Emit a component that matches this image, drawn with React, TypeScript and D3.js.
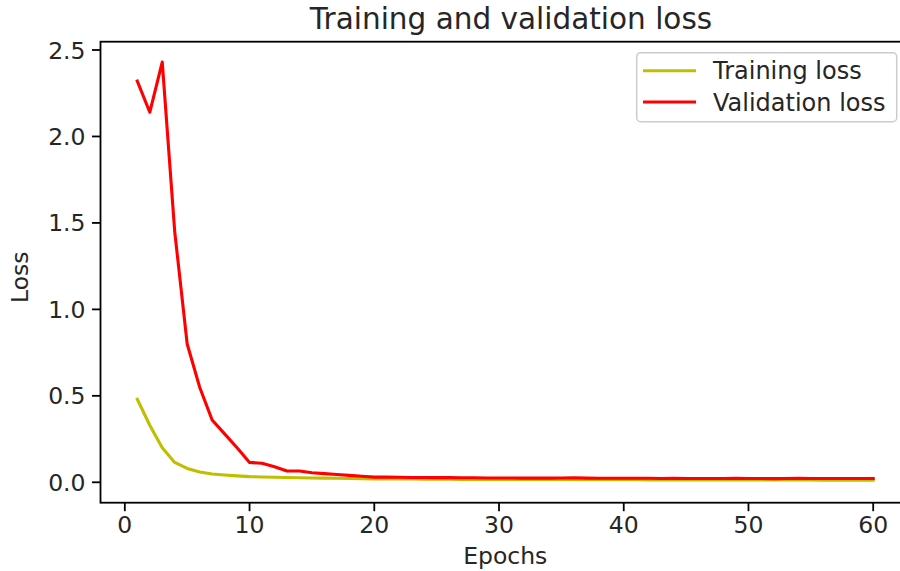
import React from "react";
import * as d3 from "d3";

const epochs: number[] = Array.from({ length: 60 }, (_, i) => i + 1);

const trainingLoss: number[] = [
  0.48, 0.33, 0.2, 0.115, 0.08, 0.06, 0.048, 0.042, 0.037, 0.033,
  0.031, 0.029, 0.028, 0.026, 0.025, 0.024, 0.023, 0.022, 0.021, 0.02,
  0.02, 0.019, 0.019, 0.018, 0.018, 0.018, 0.017, 0.017, 0.017, 0.017,
  0.016, 0.016, 0.016, 0.016, 0.016, 0.015, 0.015, 0.015, 0.015, 0.015,
  0.015, 0.014, 0.014, 0.014, 0.014, 0.014, 0.014, 0.014, 0.013, 0.013,
  0.013, 0.013, 0.013, 0.013, 0.013, 0.012, 0.012, 0.012, 0.012, 0.012,
];

const validationLoss: number[] = [
  2.32, 2.14, 2.43, 1.45, 0.8, 0.55, 0.36, 0.28, 0.2, 0.115,
  0.11, 0.09, 0.065, 0.065, 0.055, 0.05, 0.045, 0.04, 0.035, 0.03,
  0.03, 0.029, 0.028, 0.028, 0.027, 0.027, 0.026, 0.026, 0.025, 0.025,
  0.025, 0.024, 0.024, 0.024, 0.025, 0.026, 0.024, 0.023, 0.023, 0.023,
  0.023, 0.023, 0.022, 0.023, 0.022, 0.022, 0.022, 0.022, 0.023, 0.022,
  0.022, 0.021, 0.022, 0.023, 0.022, 0.022, 0.022, 0.022, 0.022, 0.022,
];

const xTicks: number[] = [0, 10, 20, 30, 40, 50, 60];
const yTicks: number[] = [0.0, 0.5, 1.0, 1.5, 2.0, 2.5];

const seriesNames: string[] = ["Training loss", "Validation loss"];
const seriesColors: string[] = ["#bfbf00", "#ff0000"];

const W = 900;
const H = 571;
const left = 100.5;
const right = 910;
const top = 41.7;
const bottom = 502.7;
const FONT = "DejaVu Sans, sans-serif";
const fs = 23.5;

export default function App() {
  const x = d3.scaleLinear().domain([-1.95, 62.95]).range([left, right]);
  const y = d3.scaleLinear().domain([-0.118, 2.548]).range([bottom, top]);
  const line = d3
    .line<number>()
    .x((_, i) => x(epochs[i]))
    .y((d) => y(d));
  const series = [trainingLoss, validationLoss];
  const tc = "#262626";

  return (
    <svg
      width={W}
      height={H}
      style={{ position: "absolute", left: 0, top: 0, background: "#fff" }}
      fontFamily={FONT}
    >
      <rect x={0} y={0} width={W} height={H} fill="#fff" />
      <text x={511} y={29} textAnchor="middle" fontSize={29.5} fill={tc}>
        Training and validation loss
      </text>
      {series.map((s, k) => (
        <path
          key={k}
          d={line(s) || ""}
          fill="none"
          stroke={seriesColors[k]}
          strokeWidth={3.1}
          strokeLinejoin="round"
          strokeLinecap="square"
        />
      ))}
      <rect
        x={left}
        y={top}
        width={right - left}
        height={bottom - top}
        fill="none"
        stroke="#000"
        strokeWidth={1.8}
      />
      {xTicks.map((t) => (
        <g key={t}>
          <line x1={x(t)} x2={x(t)} y1={bottom} y2={bottom + 8.5} stroke="#000" strokeWidth={1.8} />
          <text x={x(t)} y={bottom + 30} textAnchor="middle" fontSize={fs} fill={tc}>
            {t}
          </text>
        </g>
      ))}
      {yTicks.map((t) => (
        <g key={t}>
          <line x1={left - 8.5} x2={left} y1={y(t)} y2={y(t)} stroke="#000" strokeWidth={1.8} />
          <text x={left - 15} y={y(t) + 8.5} textAnchor="end" fontSize={fs} fill={tc}>
            {t.toFixed(1)}
          </text>
        </g>
      ))}
      <text x={(left + 900) / 2 + 5} y={564} textAnchor="middle" fontSize={fs} fill={tc}>
        Epochs
      </text>
      <text
        transform={`translate(28,${(top + bottom) / 2 + 5}) rotate(-90)`}
        textAnchor="middle"
        fontSize={fs}
        fill={tc}
      >
        Loss
      </text>
      <g>
        <rect
          x={636.7}
          y={52.7}
          width={260}
          height={69}
          rx={4}
          fill="#fff"
          fillOpacity={0.8}
          stroke="#cccccc"
          strokeWidth={1.5}
        />
        {seriesNames.map((n, k) => (
          <g key={n}>
            <line
              x1={643}
              x2={696}
              y1={70.7 + k * 31.3}
              y2={70.7 + k * 31.3}
              stroke={seriesColors[k]}
              strokeWidth={3.1}
            />
            <text x={713} y={70.7 + k * 31.3 + 8.5} fontSize={24} fill={tc}>
              {n}
            </text>
          </g>
        ))}
      </g>
    </svg>
  );
}
